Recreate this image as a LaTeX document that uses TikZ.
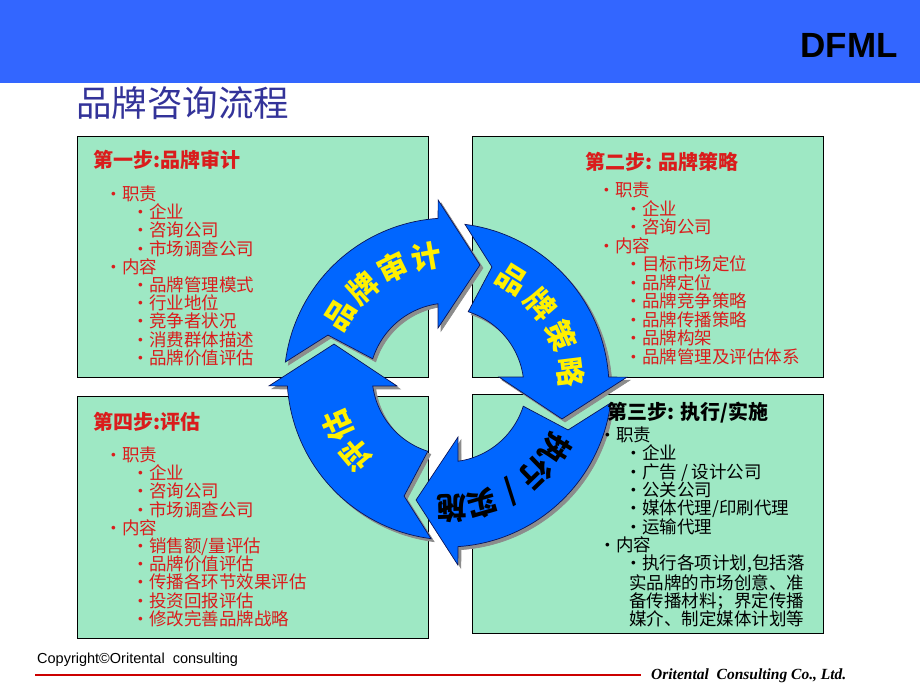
\documentclass[tikz,border=0pt]{standalone}
\usepackage{fontspec}
\setmainfont{Liberation Sans}
\newfontfamily\cjk{Noto Sans CJK SC}
\newfontfamily\serifit{Liberation Serif}
\usetikzlibrary{calc}
\definecolor{topblue}{RGB}{51,102,255}
\definecolor{boxgreen}{RGB}{158,232,196}
\definecolor{itemred}{RGB}{218,28,28}
\definecolor{titleblue}{RGB}{51,51,153}
\definecolor{ringblue}{RGB}{0,102,255}
\definecolor{ringline}{RGB}{10,20,90}
\definecolor{ringshadow}{RGB}{140,140,140}
\definecolor{ringyellow}{RGB}{255,240,0}
\definecolor{footred}{RGB}{204,0,0}
\newcommand\bul{\makebox[11pt][l]{\raisebox{4pt}{\scalebox{0.55}{$\bullet$}}}}
\tikzset{
  stepbox/.style={draw=black, line width=0.8pt, fill=boxgreen},
  steptitle/.style={anchor=base west, inner sep=0pt, font=\cjk\fontsize{20}{20}\bfseries},
  itemtext/.style={anchor=base west, inner sep=0pt, font=\cjk\fontsize{17.5}{18}\selectfont},
  ringchar/.style={inner sep=0pt, font=\cjk\fontsize{30}{30}\bfseries},
}
\begin{document}
\begin{tikzpicture}[x=1pt,y=-1pt]
\useasboundingbox (0,0) rectangle (920,690);
% header
\fill[topblue] (0,0) rectangle (920,83);
\node[anchor=east, inner sep=0pt, font=\fontsize{35}{35}\bfseries] (logo) at (898,45) {DFML};
\node[anchor=base west, inner sep=0pt, text=titleblue, font=\cjk\fontsize{35.5}{35.5}\selectfont] (title) at (76,117) {品牌咨询流程};

% the four steps
\draw[stepbox] (77,136) rectangle (428,377);
\draw[stepbox] (472,136) rectangle (823,377);
\draw[stepbox] (472,394) rectangle (823,633);
\draw[stepbox] (77,396) rectangle (428,638);

% ring of arrows
\foreach \o/\dx/\dy in {0/0/0,90/-5/5,180/-2/-1,270/3/-8}{
  \pgfmathsetmacro\ta{187.3+\o}
  \pgfmathsetmacro\tb{266.2+\o}
  \pgfmathsetmacro\tc{262.1+\o}
  \pgfmathsetmacro\td{197.6+\o}
  \begin{scope}[shift={({449+(\dx)},{383+(\dy)})}]
    \foreach \sx/\fc/\dc in {3/ringshadow/ringshadow,0/ringblue/ringline}{
      \filldraw[fill=\fc, draw=\dc, line width=0.7pt, line join=miter, shift={(\sx,\sx)}]
        (\ta:165) -- plot[domain=\ta:\tb, samples=40] (\x:165)
        -- ({\o+266.6}:183.3) -- ({\o+284.7}:122) -- ({\o+258.7}:56.1)
        -- (\tc:80) -- plot[domain=\tc:\td, samples=30] (\x:80)
        -- ({\o+201.6}:130.2) -- cycle;
    }
  \end{scope}
}

% texts on the ring
\foreach \ch [count=\i] in {品,牌,审,计}{
  \pgfmathsetmacro\ang{212+16*(\i-1)}
  \node[ringchar, text=ringyellow, rotate={-\ang-90}] (audit-\i) at ($(449,383)+(\ang:128)$) {\ch};
}
\foreach \ch [count=\i] in {品,牌,策,略}{
  \pgfmathsetmacro\ang{302+17*(\i-1)}
  \node[ringchar, text=ringyellow, rotate={-\ang-90}] (plan-\i) at ($(444,388)+(\ang:128)$) {\ch};
}
\foreach \ch [count=\i] in {执,行,{/},实,施}{
  \pgfmathsetmacro\ang{32+14*(\i-1)}
  \node[ringchar, text=black, rotate={-\ang-90}] (exec-\i) at ($(447,382)+(\ang:127)$) {\ch};
}
\foreach \ch [count=\i] in {评,估}{
  \pgfmathsetmacro\ang{140+16*(\i-1)}
  \node[ringchar, text=ringyellow, rotate={-\ang-90}] (eval-\i) at ($(452,375)+(\ang:125)$) {\ch};
}

% step 1
\node[steptitle, text=itemred] (t1) at (93,167.5) {第一步:品牌审计};
\foreach \lv/\txt [count=\i] in {0/职责,1/企业,1/咨询公司,1/市场调查公司,0/内容,1/品牌管理模式,1/行业地位,1/竞争者状况,1/消费群体描述,1/品牌价值评估}
  \node[itemtext, text=itemred] (one-\i) at ({111+27*\lv},{200.5+18.2*(\i-1)}) {\bul\txt};

% step 2
\node[steptitle, text=itemred] (t2) at (585,169.5) {第二步: 品牌策略};
\foreach \lv/\txt [count=\i] in {0/职责,1/企业,1/咨询公司,0/内容,1/目标市场定位,1/品牌定位,1/品牌竞争策略,1/品牌传播策略,1/品牌构架,1/品牌管理及评估体系}
  \node[itemtext, text=itemred] (two-\i) at ({604+27*\lv},{196.5+18.5*(\i-1)}) {\bul\txt};

% step 3
\node[steptitle, text=black] (t3) at (607,419.5) {第三步: 执行/实施};
\foreach \lv/\txt [count=\i] in {0/职责,1/企业,1/{广告 / 设计公司},1/公关公司,1/{媒体代理/印刷代理},1/运输代理,0/内容,1/{执行各项计划,包括落}}
  \node[itemtext, text=black] (three-\i) at ({605+26*\lv},{441.5+18.3*(\i-1)}) {\bul\txt};
\node[itemtext, text=black] (three-9) at (629,589.9) {实品牌的市场创意、准};
\node[itemtext, text=black] (three-10) at (629,607.5) {备传播材料；界定传播};
\node[itemtext, text=black] (three-11) at (629,625) {媒介、制定媒体计划等};

% step 4
\node[steptitle, text=itemred] (t4) at (93,429.5) {第四步:评估};
\foreach \lv/\txt [count=\i] in {0/职责,1/企业,1/咨询公司,1/市场调查公司,0/内容,1/{销售额/量评估},1/品牌价值评估,1/传播各环节效果评估,1/投资回报评估,1/修改完善品牌战略}
  \node[itemtext, text=itemred] (four-\i) at ({111+27*\lv},{461.5+18.2*(\i-1)}) {\bul\txt};

% footer
\node[anchor=base west, inner sep=0pt, font=\fontsize{14.5}{14.5}\selectfont] (copy) at (37,663) {Copyright©Oritental\ \ consulting};
\coordinate (rule-l) at (35,675);
\coordinate (rule-r) at (641,675);
\draw[footred, line width=2pt] (rule-l) -- (rule-r);
\node[anchor=base west, inner sep=0pt, font=\serifit\fontsize{15.5}{15.5}\bfseries\itshape] (firm) at (651,679) {Oritental\ \ Consulting Co., Ltd.};
\end{tikzpicture}
\end{document}
